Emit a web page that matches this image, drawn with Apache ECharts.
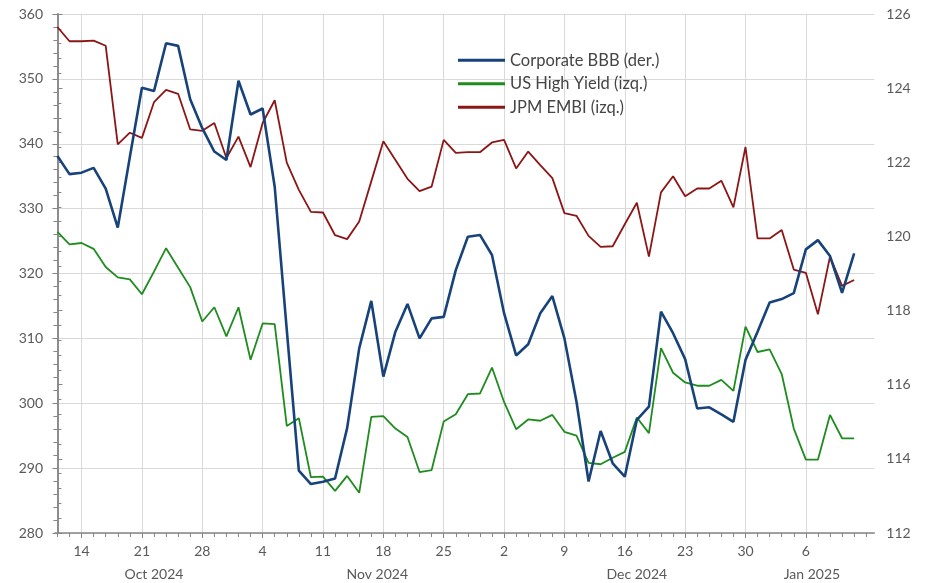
<!DOCTYPE html>
<html><head><meta charset="utf-8">
<script src="https://cdn.jsdelivr.net/npm/echarts@6/dist/echarts.min.js"></script>
<style>html,body{margin:0;padding:0;background:#fff}#c{width:932px;height:583px}</style>
</head><body><div id="c"></div>
<script>
const dates = [
 '2024-10-10','2024-10-11','2024-10-14','2024-10-15','2024-10-16','2024-10-17','2024-10-18',
 '2024-10-21','2024-10-22','2024-10-23','2024-10-24','2024-10-25','2024-10-28','2024-10-29','2024-10-30','2024-10-31',
 '2024-11-01','2024-11-04','2024-11-05','2024-11-06','2024-11-07','2024-11-08','2024-11-11','2024-11-12','2024-11-13','2024-11-14','2024-11-15',
 '2024-11-18','2024-11-19','2024-11-20','2024-11-21','2024-11-22','2024-11-25','2024-11-26','2024-11-27','2024-11-28','2024-11-29',
 '2024-12-02','2024-12-03','2024-12-04','2024-12-05','2024-12-06','2024-12-09','2024-12-10','2024-12-11','2024-12-12','2024-12-13',
 '2024-12-16','2024-12-17','2024-12-18','2024-12-19','2024-12-20','2024-12-23','2024-12-24','2024-12-25','2024-12-26','2024-12-27',
 '2024-12-30','2024-12-31','2025-01-01','2025-01-02','2025-01-03','2025-01-06','2025-01-07','2025-01-08','2025-01-09','2025-01-10'
];
// Right axis (der.)
const corporateBBB = [
 122.17,121.68,121.72,121.85,121.29,120.24,122.14,124.01,123.92,125.21,125.14,123.70,122.92,122.29,122.06,124.20,
 123.29,123.45,121.34,117.48,113.68,113.32,113.38,113.47,114.83,116.98,118.26,116.22,117.43,118.18,117.25,117.79,
 117.83,119.09,119.99,120.04,119.50,117.93,116.79,117.09,117.93,118.39,117.25,115.54,113.39,114.75,113.88,113.52,
 115.05,115.41,117.97,117.39,116.69,115.36,115.39,115.20,115.00,116.67,117.43,118.22,118.31,118.47,119.65,119.90,
 119.47,118.48,119.54
];
// Left axis (izq.)
const usHighYield = [
 326.4,324.5,324.7,323.8,321.0,319.4,319.1,316.8,320.3,323.9,320.9,317.9,312.6,314.8,310.3,314.8,
 306.7,312.3,312.2,296.5,297.7,288.6,288.7,286.5,288.8,286.2,297.9,298.0,296.1,294.8,289.4,289.7,
 297.2,298.3,301.4,301.5,305.5,300.2,296.0,297.5,297.3,298.2,295.6,295.0,290.8,290.6,291.6,292.5,
 297.8,295.4,308.5,304.7,303.2,302.7,302.7,303.6,301.9,311.8,307.9,308.3,304.5,296.1,291.3,291.3,
 298.2,294.6,294.6
];
const jpmEMBI = [
 358.0,355.8,355.8,355.9,355.1,339.9,341.7,340.9,346.4,348.3,347.7,342.2,342.0,343.2,337.8,341.1,
 336.4,343.2,346.7,337.1,332.9,329.5,329.4,325.9,325.3,328.0,334.2,340.4,337.5,334.6,332.7,333.4,
 340.6,338.6,338.7,338.7,340.2,340.6,336.2,338.8,336.7,334.7,329.3,328.9,325.8,324.1,324.2,327.6,
 330.9,322.6,332.5,335.0,331.9,333.1,333.1,334.3,330.2,339.5,325.4,325.4,326.7,320.6,320.1,313.7,
 322.6,318.1,319.0
];
const seriesNames = ['Corporate BBB (der.)','US High Yield (izq.)','JPM EMBI (izq.)'];
const seriesColors = ['#17437a','#1e8c1e','#8c1616'];
const monthNames = ['Oct 2024','Nov 2024','Dec 2024','Jan 2025'];

const xMin = -0.2, xMax = 67.67;
const allTicks = []; for (let i = 0; i <= dates.length; i++) allTicks.push(i);
const mondayIdx = [];
dates.forEach((d, i) => { if (new Date(d + 'T12:00:00Z').getUTCDay() === 1) mondayIdx.push(i); });
const monthCenters = [];
{
  let groups = {};
  dates.forEach((d, i) => { const k = d.slice(0, 7); (groups[k] = groups[k] || []).push(i); });
  Object.keys(groups).forEach(k => {
    const g = groups[k]; const a = g[0], b = Math.min(g[g.length - 1] + 1, dates.length - 1);
    monthCenters.push((a + b) / 2);
  });
}
const font = 'Lato, "Open Sans", sans-serif';
const axisGray = '#868686', gridGray = '#d9d9d9', textGray = '#595959';

const chart = echarts.init(document.getElementById('c'), null, {renderer: 'canvas'});
chart.setOption({
  animation: false,
  backgroundColor: '#fff',
  grid: {left: 55, right: 57.7, top: 14, bottom: 50, containLabel: false},
  legend: {
    orient: 'vertical', left: 453, top: 46, itemWidth: 47, itemHeight: 3, itemGap: 5,
    icon: 'rect', data: seriesNames,
    textStyle: {fontFamily: font, fontSize: 16.5, color: '#454545', lineHeight: 18.5}
  },
  xAxis: [
    {
      type: 'value', min: xMin, max: xMax, position: 'bottom',
      axisLine: {show: true, lineStyle: {color: axisGray, width: 1.5}},
      axisTick: {show: true, customValues: allTicks, length: 4, lineStyle: {color: axisGray}},
      axisLabel: {show: true, customValues: mondayIdx, margin: 11, fontFamily: font, fontSize: 14, color: textGray,
        formatter: v => String(parseInt(dates[Math.round(v)].slice(8, 10), 10))},
      splitLine: {show: false}
    },
    {
      type: 'value', min: xMin, max: xMax, position: 'bottom',
      axisLine: {show: false},
      axisTick: {show: true, customValues: mondayIdx, length: 5, lineStyle: {color: axisGray}},
      axisLabel: {show: false},
      splitLine: {show: true, lineStyle: {color: gridGray, width: 1}}
    },
    {
      type: 'value', min: xMin, max: xMax, position: 'bottom', offset: 23.5,
      axisLine: {show: false}, axisTick: {show: false}, splitLine: {show: false},
      axisLabel: {show: true, customValues: monthCenters, margin: 11, fontFamily: font, fontSize: 14, color: textGray,
        formatter: v => { const i = monthCenters.findIndex(c => Math.abs(c - v) < 1e-6); return i >= 0 ? monthNames[i] : ''; }}
    }
  ],
  yAxis: [
    {
      type: 'value', min: 280, max: 360, interval: 10, position: 'left',
      axisLine: {show: true, lineStyle: {color: axisGray, width: 1.5}},
      axisTick: {show: true, length: 5, lineStyle: {color: axisGray}},
      minorTick: {show: true, splitNumber: 5, length: 4, lineStyle: {color: axisGray}},
      axisLabel: {margin: 12, fontFamily: font, fontSize: 14, color: textGray},
      splitLine: {show: true, lineStyle: {color: gridGray, width: 1}}
    },
    {
      type: 'value', min: 112, max: 126, interval: 2, position: 'right',
      axisLine: {show: true, lineStyle: {color: axisGray, width: 1.5}},
      axisTick: {show: true, length: 5, lineStyle: {color: axisGray}},
      minorTick: {show: true, splitNumber: 5, length: 4, lineStyle: {color: axisGray}},
      axisLabel: {margin: 12, fontFamily: font, fontSize: 14, color: textGray},
      splitLine: {show: false}
    }
  ],
  series: [
    {name: seriesNames[0], type: 'line', xAxisIndex: 0, yAxisIndex: 1, symbol: 'none', z: 3,
     data: corporateBBB.map((v, i) => [i, v]), itemStyle: {color: seriesColors[0]}, lineStyle: {color: seriesColors[0], width: 2.6}},
    {name: seriesNames[1], type: 'line', xAxisIndex: 0, yAxisIndex: 0, symbol: 'none', z: 2,
     data: usHighYield.map((v, i) => [i, v]), itemStyle: {color: seriesColors[1]}, lineStyle: {color: seriesColors[1], width: 1.8}},
    {name: seriesNames[2], type: 'line', xAxisIndex: 0, yAxisIndex: 0, symbol: 'none', z: 2,
     data: jpmEMBI.map((v, i) => [i, v]), itemStyle: {color: seriesColors[2]}, lineStyle: {color: seriesColors[2], width: 1.8}}
  ]
});
</script></body></html>
